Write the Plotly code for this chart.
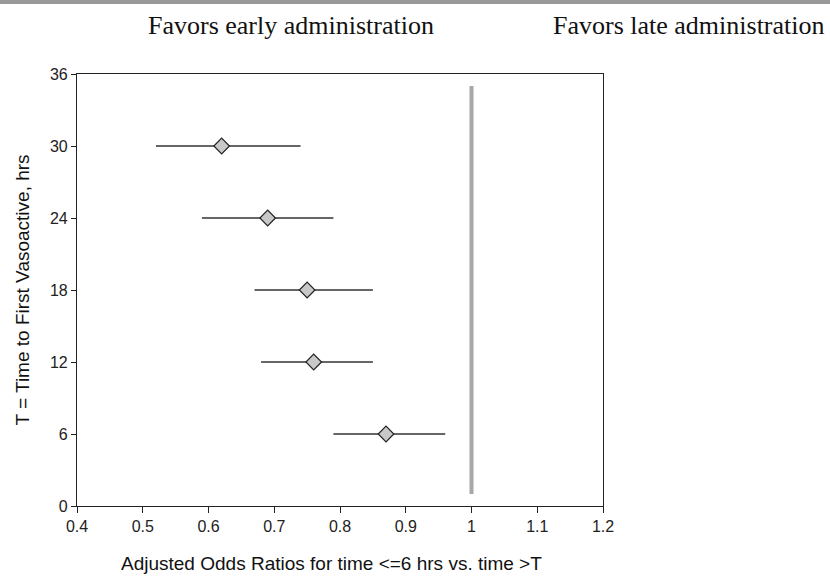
import plotly.graph_objects as go

T_hours = [30, 24, 18, 12, 6]
odds_ratio = [0.62, 0.69, 0.75, 0.76, 0.87]
ci_low = [0.52, 0.59, 0.67, 0.68, 0.79]
ci_high = [0.74, 0.79, 0.85, 0.85, 0.96]
ref_x = [1, 1]
ref_y = [1, 35]
x_ticks = [0.4, 0.5, 0.6, 0.7, 0.8, 0.9, 1.0, 1.1, 1.2]
x_tick_labels = ["0.4", "0.5", "0.6", "0.7", "0.8", "0.9", "1", "1.1", "1.2"]
y_ticks = [0, 6, 12, 18, 24, 30, 36]

err_plus = [h - o for h, o in zip(ci_high, odds_ratio)]
err_minus = [o - l for o, l in zip(odds_ratio, ci_low)]

fig = go.Figure()
fig.add_trace(go.Scatter(x=ref_x, y=ref_y, mode="lines",
                         line=dict(color="#a8a8a8", width=4), showlegend=False, hoverinfo="skip"))
fig.add_trace(go.Scatter(
    x=odds_ratio, y=T_hours, mode="markers",
    marker=dict(symbol="diamond", size=12, color="#c8c8c8", line=dict(color="#222222", width=1.2)),
    error_x=dict(type="data", symmetric=False, array=err_plus, arrayminus=err_minus,
                 color="#333333", thickness=1.3, width=0),
    showlegend=False))

L, R, T, B = 77, 227, 74, 75
W, H = 830, 581
pw, ph = W - L - R, H - T - B

fig.update_layout(
    width=W, height=H,
    margin=dict(l=L, r=R, t=T, b=B, autoexpand=False),
    paper_bgcolor="white", plot_bgcolor="white",
    font=dict(family="Liberation Sans, Arial", color="#222222"),
    xaxis=dict(range=[0.4, 1.2], tickvals=x_ticks, ticktext=x_tick_labels,
               showgrid=False, zeroline=False, showline=True, linecolor="#222222", linewidth=1.2,
               mirror=True, ticks="outside", ticklen=6, tickcolor="#222222",
               tickfont=dict(size=16)),
    yaxis=dict(range=[0, 36], tickvals=y_ticks,
               showgrid=False, zeroline=False, showline=True, linecolor="#222222", linewidth=1.2,
               mirror=True, ticks="outside", ticklen=5, tickcolor="#222222",
               tickfont=dict(size=16),
               title=dict(text="T = Time to First Vasoactive, hrs",
                          font=dict(size=19, color="#111111"), standoff=15)),
    shapes=[dict(type="rect", xref="paper", yref="paper",
                 x0=-L / pw, x1=(W - L) / pw, y0=(H - B - 4) / ph, y1=(H - B + 2) / ph,
                 fillcolor="#999999", line=dict(width=0), layer="above")],
    annotations=[
        dict(text="Favors early administration", xref="paper", yref="paper",
             x=(291 - L) / pw, y=(H - B - 25) / ph, showarrow=False,
             xanchor="center", yanchor="middle",
             font=dict(family="Liberation Serif, Times New Roman", size=26, color="#111111")),
        dict(text="Favors late administration", xref="paper", yref="paper",
             x=(689 - L) / pw, y=(H - B - 25) / ph, showarrow=False,
             xanchor="center", yanchor="middle",
             font=dict(family="Liberation Serif, Times New Roman", size=26, color="#111111")),
        dict(text="Adjusted Odds Ratios for time <=6 hrs vs. time >T", xref="paper", yref="paper",
             x=(331 - L) / pw, y=(H - B - 563) / ph, showarrow=False,
             xanchor="center", yanchor="middle",
             font=dict(family="Liberation Sans, Arial", size=19, color="#111111")),
    ],
)

fig.write_html("out.html", config={"displayModeBar": False},
               post_script="document.body.style.margin='0';document.body.style.padding='0';")
